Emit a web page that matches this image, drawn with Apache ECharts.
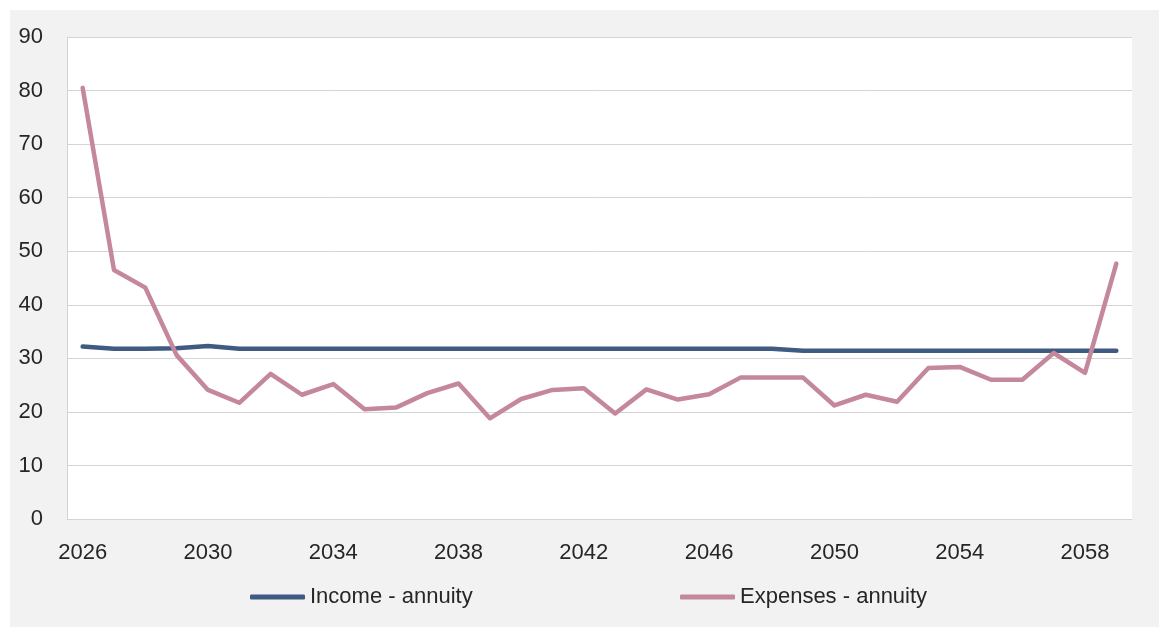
<!DOCTYPE html>
<html>
<head>
<meta charset="utf-8">
<script src="https://cdn.jsdelivr.net/npm/echarts@6/dist/echarts.min.js"></script>
<style>
    html, body { margin: 0; padding: 0; background: #fff; }
    #chart { position: absolute; left: 10px; top: 10px; width: 1149px; height: 617px; background: #f2f2f2; }
</style>
</head>
<body>
<div id="chart"></div>
<script>
'use strict';

const years = [
    '2026','2027','2028','2029','2030','2031','2032','2033','2034','2035','2036','2037',
    '2038','2039','2040','2041','2042','2043','2044','2045','2046','2047','2048','2049',
    '2050','2051','2052','2053','2054','2055','2056','2057','2058','2059'
];

const incomeAnnuity = [
    32.2, 31.8, 31.8, 31.9, 32.3, 31.8, 31.8, 31.8, 31.8, 31.8, 31.8, 31.8,
    31.8, 31.8, 31.8, 31.8, 31.8, 31.8, 31.8, 31.8, 31.8, 31.8, 31.8, 31.4,
    31.4, 31.4, 31.4, 31.4, 31.4, 31.4, 31.4, 31.4, 31.4, 31.4
];

const expensesAnnuity = [
    80.5, 46.5, 43.2, 30.6, 24.1, 21.7, 27.1, 23.2, 25.2, 20.5, 20.8, 23.5,
    25.3, 18.8, 22.4, 24.1, 24.4, 19.7, 24.2, 22.3, 23.3, 26.4, 26.4, 26.4,
    21.2, 23.2, 21.9, 28.2, 28.4, 26.0, 26.0, 31.0, 27.3, 47.7
];

const yMin = 0;
const yMax = 90;
const yStep = 10;

const fontFamily = '"Liberation Sans", Arial, sans-serif';
const textColor = '#262626';

const chart = echarts.init(document.getElementById('chart'));

// both legend entries share this look, only the left offset differs
const legendBase = {
    top: 576,
    padding: 0,
    icon: 'roundRect',
    itemWidth: 55,
    itemHeight: 5,
    textStyle: { fontFamily: fontFamily, fontSize: 22, color: textColor }
};

chart.setOption({
    animation: false,
    textStyle: { fontFamily: fontFamily },
    grid: {
        left: 57,
        top: 27,
        right: 27,
        bottom: 108,
        show: true,
        backgroundColor: '#fff',
        borderWidth: 0
    },
    legend: [
        Object.assign({ data: ['Income - annuity'], left: 240 }, legendBase),
        Object.assign({ data: ['Expenses - annuity'], left: 670 }, legendBase)
    ],
    xAxis: {
        type: 'category',
        data: years,
        boundaryGap: true,
        axisLine: { lineStyle: { color: '#d4d4d4', width: 1 } },
        axisTick: { show: false },
        axisLabel: {
            interval: 3,
            margin: 23,
            fontSize: 22,
            color: textColor
        }
    },
    yAxis: {
        type: 'value',
        min: yMin,
        max: yMax,
        interval: yStep,
        axisLine: { show: true, lineStyle: { color: '#d4d4d4', width: 1 } },
        axisTick: { show: false },
        splitLine: { lineStyle: { color: '#d4d4d4', width: 1 } },
        axisLabel: {
            margin: 24,
            fontSize: 22,
            color: textColor
        }
    },
    series: [
        {
            name: 'Income - annuity',
            type: 'line',
            data: incomeAnnuity,
            symbol: 'none',
            color: '#3f5b82',
            lineStyle: { width: 4.5, color: '#3f5b82', cap: 'round', join: 'round' }
        },
        {
            name: 'Expenses - annuity',
            type: 'line',
            data: expensesAnnuity,
            symbol: 'none',
            color: '#c4879c',
            lineStyle: { width: 4.5, color: '#c4879c', cap: 'round', join: 'round' }
        }
    ]
});
</script>
</body>
</html>
